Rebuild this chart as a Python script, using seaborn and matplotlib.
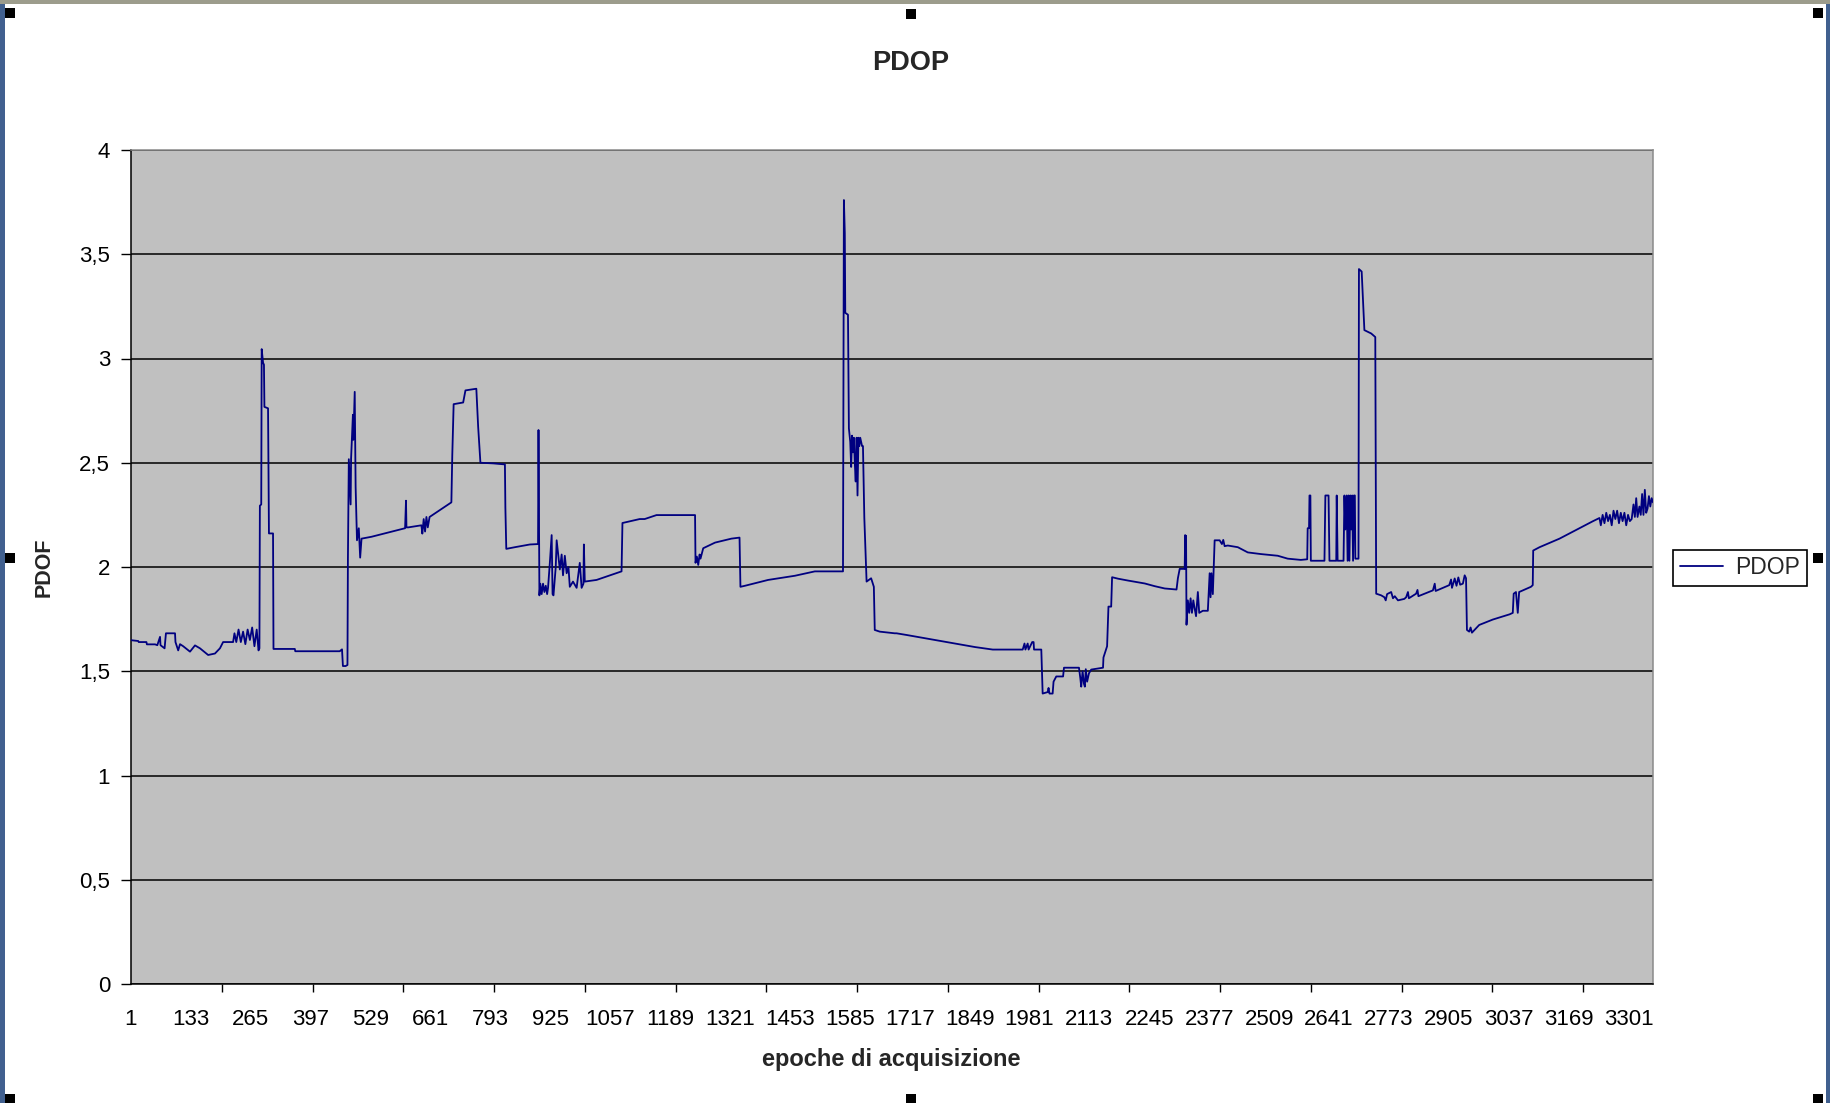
import numpy as np
import pandas as pd
import matplotlib
matplotlib.use('Agg')
import matplotlib.pyplot as plt
from matplotlib.patches import Rectangle
import seaborn as sns

# epoche (indice di acquisizione) e valori PDOP
epoche_a = [1, 17, 18, 35, 36, 54, 59, 65, 66, 75,
            78, 98, 99, 105, 109, 116, 131, 142, 153, 171,
            186, 197, 204, 226, 229, 233, 238, 243, 248, 253,
            258, 263, 268, 273, 278, 282, 284, 285, 288, 289,
            292, 294, 295, 303, 305, 314, 315, 362, 363, 461,
            466, 468, 474, 478, 479, 481, 485, 486, 490, 491,
            494, 496, 499, 503, 506, 509, 531, 560]
pdop_a = [1.649, 1.645, 1.640, 1.640, 1.629, 1.629, 1.625, 1.665, 1.625, 1.610,
          1.682, 1.682, 1.640, 1.600, 1.630, 1.620, 1.594, 1.624, 1.610, 1.578,
          1.585, 1.610, 1.640, 1.640, 1.682, 1.640, 1.700, 1.640, 1.690, 1.630,
          1.700, 1.650, 1.710, 1.620, 1.700, 1.600, 1.610, 2.294, 2.300, 3.045,
          2.980, 2.970, 2.768, 2.761, 2.161, 2.161, 1.607, 1.607, 1.596, 1.596,
          1.605, 1.525, 1.525, 1.530, 2.037, 2.517, 2.300, 2.520, 2.730, 2.610,
          2.840, 2.384, 2.128, 2.186, 2.045, 2.136, 2.145, 2.161]

epoche_b = [605, 607, 608, 612, 641, 643, 646, 649, 652, 655,
            659, 707, 709, 712, 733, 738, 762, 766, 771, 799,
            825, 826, 828, 847, 880, 898, 899, 901, 903, 906,
            909, 912, 915, 918, 920, 924, 928, 930, 932, 937,
            939, 943, 946, 950, 953, 957, 961, 965, 968, 975,
            983, 990, 994, 998, 999, 1001, 1027, 1082, 1084, 1100,
            1122, 1133, 1159, 1244, 1245, 1248, 1251, 1254, 1256, 1262,
            1288, 1324, 1342, 1344, 1354, 1405, 1464, 1508, 1570, 1572,
            1574, 1575, 1581, 1583, 1586, 1588, 1590, 1592, 1594, 1596,
            1598, 1600, 1602, 1604, 1606, 1608, 1612, 1614, 1617, 1622,
            1632, 1638, 1640, 1651, 1684]
pdop_b = [2.186, 2.318, 2.190, 2.190, 2.200, 2.160, 2.230, 2.170, 2.240, 2.190,
          2.240, 2.310, 2.536, 2.781, 2.789, 2.847, 2.855, 2.673, 2.500, 2.497,
          2.492, 2.285, 2.087, 2.095, 2.108, 2.110, 2.657, 1.864, 1.920, 1.870,
          1.920, 1.880, 1.910, 1.870, 1.900, 2.020, 2.153, 1.870, 1.864, 2.000,
          2.128, 2.050, 1.988, 2.060, 1.960, 2.054, 1.970, 2.000, 1.905, 1.930,
          1.900, 2.020, 1.900, 1.920, 2.108, 1.930, 1.938, 1.979, 2.211, 2.219,
          2.230, 2.230, 2.249, 2.249, 2.020, 2.050, 2.010, 2.060, 2.040, 2.090,
          2.117, 2.136, 2.141, 1.905, 1.910, 1.938, 1.958, 1.979, 1.979, 3.760,
          3.600, 3.219, 3.210, 2.665, 2.600, 2.480, 2.630, 2.550, 2.620, 2.500,
          2.410, 2.620, 2.343, 2.620, 2.580, 2.620, 2.580, 2.580, 2.236, 1.930,
          1.946, 1.905, 1.698, 1.690, 1.682]

epoche_c = [1688, 1710, 1861, 1900, 1966, 1970, 1972, 1977, 1979, 1987,
            1990, 1991, 2007, 2010, 2021, 2023, 2025, 2032, 2034, 2040,
            2055, 2057, 2090, 2093, 2095, 2098, 2101, 2103, 2105, 2108,
            2112, 2117, 2143, 2144, 2152, 2155, 2161, 2163, 2176, 2198,
            2235, 2257, 2279, 2305, 2308, 2312, 2323, 2324, 2325, 2326,
            2327, 2330, 2333, 2336, 2339, 2342, 2345, 2348, 2352, 2355,
            2363, 2374, 2378, 2380, 2382, 2385, 2389, 2400, 2405, 2408,
            2411, 2418, 2440, 2462, 2491, 2528, 2550, 2579, 2593, 2594,
            2597, 2598, 2600, 2601, 2631, 2633, 2640, 2642, 2657, 2658,
            2660, 2673, 2675, 2677, 2680, 2682, 2684, 2686, 2688, 2690,
            2692, 2694, 2696, 2698, 2699, 2706, 2707, 2713, 2716, 2719,
            2734, 2743]
pdop_c = [1.682, 1.674, 1.616, 1.604, 1.604, 1.633, 1.604, 1.633, 1.604, 1.640,
          1.640, 1.604, 1.604, 1.393, 1.400, 1.420, 1.393, 1.393, 1.450, 1.475,
          1.475, 1.517, 1.517, 1.467, 1.426, 1.500, 1.440, 1.426, 1.510, 1.450,
          1.490, 1.508, 1.517, 1.566, 1.620, 1.810, 1.810, 1.951, 1.944, 1.935,
          1.921, 1.908, 1.897, 1.892, 1.946, 1.991, 1.991, 2.153, 1.990, 2.150,
          1.723, 1.840, 1.780, 1.850, 1.780, 1.840, 1.800, 1.764, 1.880, 1.780,
          1.790, 1.790, 1.970, 1.855, 1.970, 1.870, 2.128, 2.128, 2.110, 2.130,
          2.100, 2.103, 2.095, 2.070, 2.062, 2.054, 2.040, 2.034, 2.037, 2.186,
          2.186, 2.343, 2.343, 2.030, 2.030, 2.343, 2.343, 2.030, 2.030, 2.343,
          2.030, 2.030, 2.343, 2.180, 2.343, 2.030, 2.343, 2.030, 2.343, 2.180,
          2.343, 2.030, 2.343, 2.343, 2.040, 2.040, 3.429, 3.417, 3.274, 3.136,
          3.120, 3.103]

epoche_d = [2745, 2756, 2763, 2766, 2769, 2778, 2782, 2786, 2793, 2807,
            2811, 2815, 2817, 2833, 2836, 2838, 2870, 2874, 2876, 2906,
            2910, 2912, 2918, 2922, 2926, 2930, 2936, 2940, 2943, 2945,
            2950, 2953, 2956, 2972, 3002, 3039, 3046, 3048, 3053, 3057,
            3060, 3086, 3090, 3091, 3105, 3149, 3193, 3222, 3237, 3240,
            3244, 3248, 3252, 3256, 3260, 3264, 3268, 3272, 3276, 3280,
            3284, 3288, 3292, 3296, 3300, 3304, 3308, 3312, 3315, 3318,
            3321, 3325, 3328, 3331, 3334, 3337, 3340, 3343, 3346, 3349,
            3352, 3355]
pdop_d = [1.872, 1.864, 1.855, 1.840, 1.870, 1.880, 1.850, 1.860, 1.840, 1.847,
          1.855, 1.880, 1.850, 1.872, 1.890, 1.860, 1.888, 1.920, 1.885, 1.913,
          1.940, 1.900, 1.945, 1.910, 1.950, 1.915, 1.920, 1.960, 1.946, 1.698,
          1.690, 1.710, 1.685, 1.722, 1.748, 1.773, 1.780, 1.872, 1.880, 1.780,
          1.880, 1.905, 1.913, 2.079, 2.095, 2.136, 2.186, 2.219, 2.235, 2.200,
          2.250, 2.210, 2.260, 2.220, 2.250, 2.200, 2.270, 2.230, 2.270, 2.210,
          2.260, 2.220, 2.260, 2.200, 2.250, 2.220, 2.230, 2.300, 2.240, 2.330,
          2.240, 2.290, 2.250, 2.350, 2.250, 2.370, 2.260, 2.280, 2.340, 2.290,
          2.330, 2.310]

n_epoche = 3355
x_labels = list(range(1, 3302, 132))
y_ticks = [0, 0.5, 1, 1.5, 2, 2.5, 3, 3.5, 4]
y_labels = ['0', '0,5', '1', '1,5', '2', '2,5', '3', '3,5', '4']

for e, p in [(epoche_a, pdop_a), (epoche_b, pdop_b), (epoche_c, pdop_c), (epoche_d, pdop_d)]:
    assert len(e) == len(p), (len(e), len(p))

df = pd.DataFrame({'epoca': epoche_a + epoche_b + epoche_c + epoche_d,
                   'PDOP': pdop_a + pdop_b + pdop_c + pdop_d})

sns.set_theme(style='white')
plt.rcParams['font.family'] = ['Liberation Sans', 'DejaVu Sans']

W, H = 1831, 1103
fig = plt.figure(figsize=(W / 100, H / 100), dpi=100)
fig.patch.set_facecolor('white')
ax = fig.add_axes([131 / W, 1 - 984 / H, (1653 - 131) / W, (984 - 150) / H])
ax.set_facecolor('#C0C0C0')

sns.lineplot(data=df, x='epoca', y='PDOP', ax=ax, sort=False, estimator=None,
             color='#000080', linewidth=1.3, label='PDOP', zorder=3)

ax.set_xlim(1, n_epoche)
ax.set_ylim(0, 4)
ax.set_yticks(y_ticks)
ax.set_yticklabels(y_labels)
ax.set_xticks(x_labels)
ax.set_xticklabels([str(v) for v in x_labels])
ax.set_xticks(list(range(1, n_epoche, 200)), minor=True)
ax.tick_params(axis='x', which='major', length=0, pad=18, labelsize=16, colors='black')
ax.tick_params(axis='x', which='minor', length=6, width=1, color='black', direction='out', bottom=True)
ax.tick_params(axis='y', which='major', length=7, width=1, color='black', direction='out',
               pad=8, labelsize=16, left=True, labelcolor='black')

ax.yaxis.grid(True, color='black', linewidth=1.1, zorder=1)
ax.xaxis.grid(False)
ax.set_axisbelow(True)
for s in ['left', 'bottom']:
    ax.spines[s].set_color('black')
    ax.spines[s].set_linewidth(1.1)
for s in ['top', 'right']:
    ax.spines[s].set_color('#8a8a8a')
    ax.spines[s].set_linewidth(1.1)

ax.set_xlabel('epoche di acquisizione', fontsize=17, fontweight='bold', va='center')
ax.xaxis.set_label_coords(0.4993, -0.091)
ax.set_ylabel('PDOF', fontsize=15.5, fontweight='bold', va='center')
ax.yaxis.set_label_coords(-0.057, 0.5)
fig.suptitle('PDOP', x=911 / W, y=1 - 63 / H, va='center', fontsize=19.5, fontweight='bold')

leg = ax.legend(loc='center left', bbox_to_anchor=(1673 / W, 1 - 568 / H),
                bbox_transform=fig.transFigure, frameon=True, fancybox=False,
                edgecolor='black', framealpha=1, borderaxespad=0, fontsize=16.5,
                handlelength=1.9, borderpad=0.3, handletextpad=0.5)
leg.get_frame().set_linewidth(1.2)


def px_rect(x, y, w, h, color):
    fig.add_artist(Rectangle((x / W, 1 - (y + h) / H), w / W, h / H,
                             transform=fig.transFigure, color=color, lw=0, zorder=10))


# cornice della finestra e maniglie di selezione
px_rect(0, 0, 5, H, '#41608f')
px_rect(W - 5, 0, 5, H, '#41608f')
px_rect(0, 0, W, 4, '#9c9c8c')
for hx, hy in [(5, 8), (906, 9), (1813, 8), (5, 553), (1813, 553),
               (5, 1094), (906, 1094), (1813, 1094)]:
    px_rect(hx, hy, 10, 10, 'black')

fig.savefig('out.png', dpi=100, facecolor='white')
